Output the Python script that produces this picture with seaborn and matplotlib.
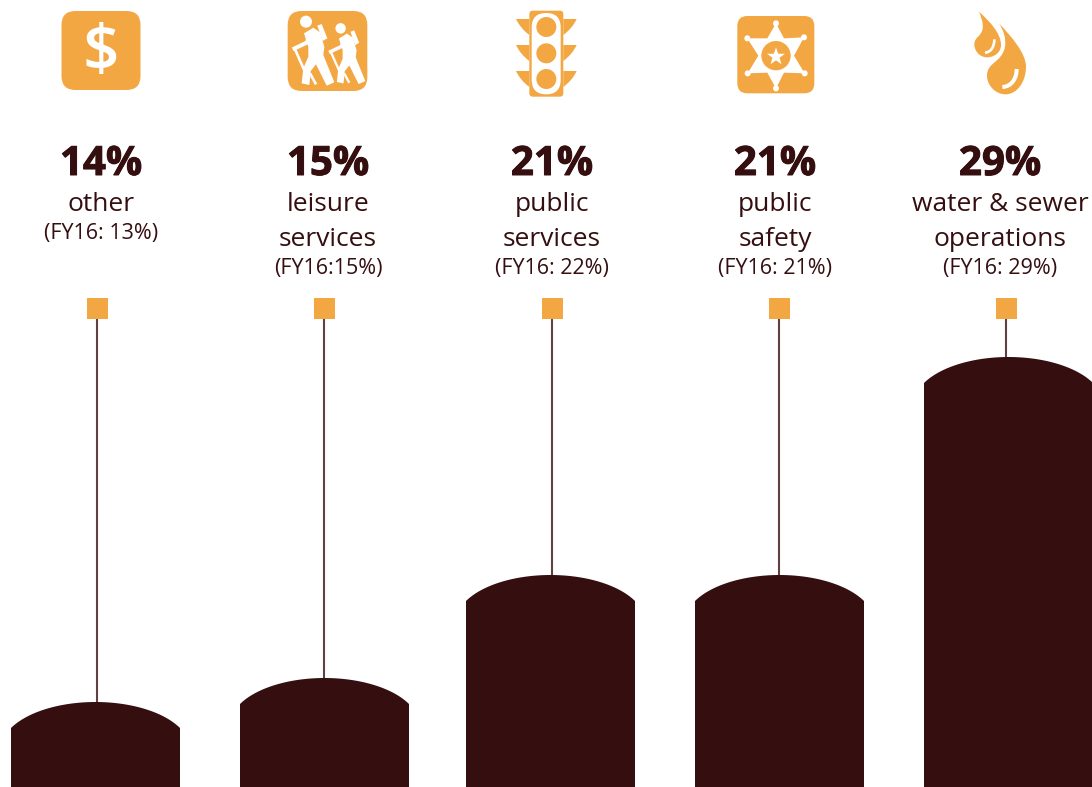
import numpy as np
import matplotlib
matplotlib.use("Agg")
import matplotlib.pyplot as plt
import matplotlib.patheffects as pe
import seaborn as sns
from matplotlib.path import Path
from matplotlib.patches import PathPatch, FancyBboxPatch, Circle, Polygon

# Budget shares, FY17 and FY16
categories = ["other", "leisure services", "public services", "public safety", "water & sewer operations"]
shares = [14, 15, 21, 21, 29]
name_lines = [["other"], ["leisure", "services"], ["public", "services"], ["public", "safety"],
              ["water & sewer", "operations"]]
prior_labels = ["(FY16: 13%)", "(FY16:15%)", "(FY16: 22%)", "(FY16: 21%)", "(FY16: 29%)"]

# Page layout, in pixels
W, H = 1092, 787
bar_centres = [95.5, 324.5, 550.5, 779.5, 1008.5]
stem_x = [97, 323.5, 551.5, 779, 1006]
text_x = [101, 328, 552, 775, 1000]
BAR_W, DOME = 169, 26
STEM_TOP = 318

ORANGE = "#F3A743"
DARK = "#350F10"
STEM = "#5F4144"

# The column heights follow a stepped axis rather than a linear one
scale_v = [0, 14, 15, 21, 29, 45]
scale_h = [0, 85, 109, 212, 430, 787]
to_axis = lambda v: np.interp(v, scale_v, scale_h)
from_axis = lambda h: np.interp(h, scale_h, scale_v)

sns.set_theme(style="white")
plt.rcParams["font.family"] = ["Open Sans", "DejaVu Sans"]

fig = plt.figure(figsize=(W / 100, H / 100), dpi=100, facecolor="white")
ax = fig.add_axes([0, 0, 1, 1])
sns.barplot(x=bar_centres, y=shares, native_scale=True, color=DARK, saturation=1,
            width=BAR_W / 226, linewidth=0, ax=ax)
ax.set_yscale("function", functions=(to_axis, from_axis))
ax.set_xlim(0, W)
ax.set_ylim(0, 45)
ax.axis("off")

ov = fig.add_axes([0, 0, 1, 1], facecolor="none")
ov.set_xlim(0, W)
ov.set_ylim(H, 0)
ov.axis("off")

# Round the top of each column with a shallow elliptical arc
u = np.linspace(-0.5, 0.5, 81)
A = 0.56
arc = (np.sqrt(1 - (u / A) ** 2) - np.sqrt(1 - (0.5 / A) ** 2)) / (1 - np.sqrt(1 - (0.5 / A) ** 2))
for patch, cx, v in zip(ax.patches, bar_centres, shares):
    top = H - to_axis(v)
    xs = cx + u * BAR_W
    ys = top + DOME * (1 - arc)
    outline = np.column_stack([np.r_[xs[0], xs, xs[-1]], np.r_[H + 5, ys, H + 5]])
    patch.set_clip_path(Path(outline, closed=False), ov.transData)

# Stems and the square caps above them
stem_top_value = float(from_axis(H - STEM_TOP))
ax.vlines(stem_x, shares, stem_top_value, color=STEM, linewidth=1.5, zorder=1)
ax.scatter(stem_x, [from_axis(H - 307.5)] * 5, marker="s", s=(21 * 0.72) ** 2, color=ORANGE,
           linewidths=0, zorder=3, clip_on=False)

# Labels
for i, x in enumerate(text_x):
    ov.text(x, 175, f"{shares[i]}%", ha="center", va="baseline", fontsize=29, fontweight="bold", color=DARK,
            path_effects=[pe.withStroke(linewidth=0.7, foreground=DARK)])
    y = 211
    for line in name_lines[i]:
        ov.text(x, y, line, ha="center", va="baseline", fontsize=19, color=DARK)
        y += 35
    ov.text(x, y - 7, prior_labels[i], ha="center", va="baseline", fontsize=15.5, color=DARK)


def rounded(x0, y0, x1, y1, r, **kw):
    ov.add_patch(FancyBboxPatch((x0 + r, y0 + r), x1 - x0 - 2 * r, y1 - y0 - 2 * r,
                                boxstyle=f"round,pad={r},rounding_size={r}", ec="none", **kw))


def crop(points, x0, y0=5):
    return [(x0 + px / 3, y0 + py / 3) for px, py in points]


# Dollar tile
rounded(61.5, 11, 140.5, 90, 14, fc=ORANGE)
ov.text(100.5, 70, "$", ha="center", va="baseline", fontsize=46, fontweight="semibold", color="white")

# Hikers tile
HX = 280
rounded(HX + 23 / 3, 5 + 18 / 3, HX + 262 / 3, 5 + 258 / 3, 14, fc=ORANGE)


def hiker(s, dx, dy):
    t = lambda pts: crop([(px * s + dx, py * s + dy) for px, py in pts], HX)
    ov.add_patch(Circle(t([(78, 50)])[0], 18 * s / 3, fc="white", ec="none"))
    ov.add_patch(Polygon(t([(72, 85), (100, 68), (120, 82), (133, 125), (130, 150), (163, 232), (140, 242),
                            (108, 178), (92, 198), (88, 240), (65, 235), (70, 190), (85, 155), (85, 125)]),
                         fc="white", ec="none"))
    ov.add_patch(Polygon(t([(112, 62), (125, 57), (142, 100), (128, 108)]), fc="white", ec="none"))
    ov.plot(*zip(*t([(85, 92), (82, 112), (38, 133)])), color="white", lw=2.9 * s, solid_joinstyle="miter",
            solid_capstyle="butt")
    ov.plot(*zip(*t([(46, 135), (80, 212)])), color="white", lw=1.9 * s, solid_capstyle="butt")
    ov.plot(*zip(*t([(90, 205), (108, 238)])), color="white", lw=1.9 * s, solid_capstyle="butt")


hiker(1, 0, 0)
hiker(0.87, 114, 26.5)

# Traffic light
TX = 505
rounded(TX + 73 / 3, 5 + 17 / 3, TX + 175 / 3, 5 + 275 / 3, 3.5, fc=ORANGE)
for off in (0, 78, 156):
    for sign in (-1, 1):
        wing = Path(crop([(124 + sign * 51, 42 + off), (124 + sign * 91, 42 + off),
                          (124 + sign * 78, 70 + off), (124 + sign * 51, 90 + off), (124 + sign * 51, 42 + off)], TX),
                    [Path.MOVETO, Path.LINETO, Path.CURVE3, Path.CURVE3, Path.CLOSEPOLY])
        ov.add_patch(PathPatch(wing, fc=ORANGE, ec="none"))
rounded(TX + 80 / 3, 5 + 24 / 3, TX + 167 / 3, 5 + 268 / 3, 14.5, fc="white")
for cy in (66, 145, 222):
    ov.add_patch(Circle(crop([(124, cy)], TX)[0], 30 / 3, fc=ORANGE, ec="none"))

# Sheriff badge
SX = 730
rounded(SX + 22 / 3, 5 + 33 / 3, SX + 253 / 3, 5 + 265 / 3, 10, fc=ORANGE)
ov.add_patch(Polygon(crop([(138, 55), (162, 100), (222, 97), (192, 152), (224, 205), (162, 203), (138, 250),
                           (112, 203), (53, 205), (85, 152), (52, 100), (112, 100)], SX), fc="white", ec="none"))
for tip in [(138, 55), (222, 97), (224, 205), (138, 250), (53, 205), (52, 100)]:
    ov.add_patch(Circle(crop([tip], SX)[0], 9 / 3, fc="white", ec="none"))
ov.add_patch(Circle(crop([(138, 152)], SX)[0], 44 / 3, fc=ORANGE, ec="none"))
star = []
for k in range(10):
    radius = 28 if k % 2 == 0 else 11
    angle = np.pi / 2 + k * np.pi / 5
    star.append((138 + radius * np.cos(angle), 155 - radius * np.sin(angle)))
ov.add_patch(Polygon(crop(star, SX), fc="white", ec="none"))

# Water drops
DX = 965
C4 = Path.CURVE4
small = [(42, 20), (75, 50), (108, 85), (108, 120), (108, 142), (88, 157), (66, 157),
         (44, 157), (28, 138), (28, 118), (28, 95), (50, 95), (53, 70), (55, 52), (48, 35), (42, 20)]
large = [(102, 55), (140, 95), (183, 145), (183, 185), (183, 232), (155, 268), (122, 268),
         (90, 268), (66, 240), (66, 212), (66, 170), (110, 175), (120, 125), (124, 100), (115, 75), (102, 55)]
for drop in (small, large):
    codes = [Path.MOVETO] + [C4] * (len(drop) - 1)
    ov.add_patch(PathPatch(Path(crop(drop, DX), codes), fc=ORANGE, ec="none"))
glints = [[(88, 103), (88, 125), (78, 142), (60, 143)],
          [(155, 192), (155, 220), (140, 245), (112, 246)]]
for g, lw in zip(glints, (1.9, 2.9)):
    ov.add_patch(PathPatch(Path(crop(g, DX), [Path.MOVETO, C4, C4, C4]), fc="none", ec="white", lw=lw,
                           capstyle="butt"))

fig.savefig("out.png", dpi=100, facecolor="white")
